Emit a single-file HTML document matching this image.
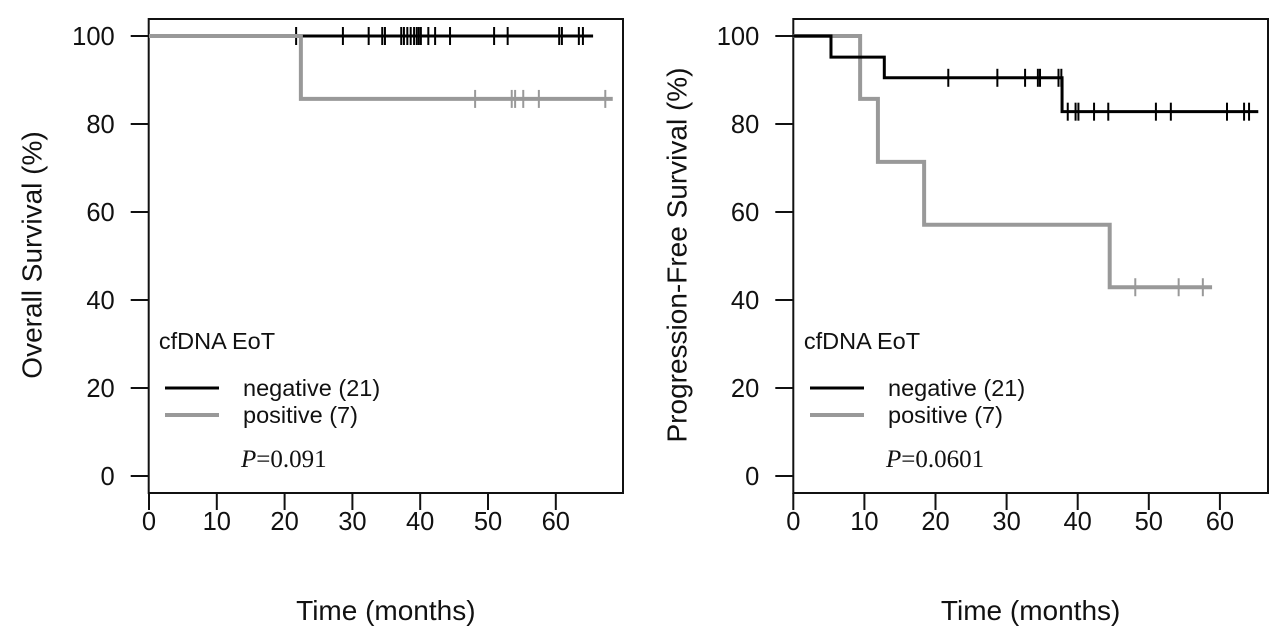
<!DOCTYPE html>
<html><head><meta charset="utf-8"><style>
html,body{margin:0;padding:0;background:#fff;}
svg{display:block;font-family:"Liberation Sans",sans-serif;}
</style></head><body>
<svg id="chart" width="1280" height="642" viewBox="0 0 1280 642"></svg>
<script>
// ---- data ----
const xTicks = [0,10,20,30,40,50,60];
const yTicks = [0,20,40,60,80,100];
// Overall survival
const osNegSteps = [[0,100]];
const osNegEnd = 65.5;
const osNegCensor = [21.7,28.6,32.4,34.4,34.8,37.2,37.6,38.1,38.6,39.1,39.5,39.8,40.1,41.2,42.2,44.4,50.9,52.9,60.5,60.9,63.4,64.0];
const osPosSteps = [[0,100],[22.4,85.7]];
const osPosEnd = 68.4;
const osPosCensor = [48.1,53.5,54.0,55.2,57.5,67.3];
// Progression-free survival
const pfsNegSteps = [[0,100],[5.3,95.2],[12.8,90.5],[37.8,82.8]];
const pfsNegEnd = 65.4;
const pfsNegCensor = [21.8,28.7,32.6,34.4,34.7,37.3,37.7,38.6,39.7,40.1,42.3,44.3,51.0,53.1,61.0,63.4,64.1];
const pfsPosSteps = [[0,100],[9.4,85.7],[11.9,71.4],[18.4,57.1],[44.5,42.9]];
const pfsPosEnd = 58.9;
const pfsPosCensor = [48.1,54.2,57.6];

const NS="http://www.w3.org/2000/svg";
const svg=document.getElementById('chart');
function mk(tag,attrs,parent){const e=document.createElementNS(NS,tag);for(const k in attrs)e.setAttribute(k,attrs[k]);(parent||svg).appendChild(e);return e;}

function panel(p){
  const g=mk('g',{});
  
  
  const X=v=>p.x0+v*p.kx, Y=v=>476-v*4.4;
  const box=mk('rect',{x:p.bl,y:19,width:p.br-p.bl,height:474,fill:'none',stroke:'#111','stroke-width':2},g);
  
  
  xTicks.forEach(t=>{
    const l=mk('line',{x1:X(t),x2:X(t),y1:493,y2:510,stroke:'#111','stroke-width':2},g);
    
    
    const tx=mk('text',{x:X(t),y:530,'font-size':25.5,'text-anchor':'middle',fill:'#111'},g);
    tx.textContent=t;
    
    
  });
  yTicks.forEach(t=>{
    const l=mk('line',{x1:p.bl-18,x2:p.bl,y1:Y(t),y2:Y(t),stroke:'#111','stroke-width':2},g);
    
    
    const tx=mk('text',{x:p.bl-34,y:Y(t)+9,'font-size':25.5,'text-anchor':'end',fill:'#111'},g);
    tx.textContent=t;
    
    
  });
  const xt=mk('text',{x:(p.bl+p.br)/2,y:620,'font-size':28,'text-anchor':'middle',fill:'#111'},g);
  xt.textContent='Time (months)';
  
  
  const yt=mk('text',{x:0,y:0,'font-size':28,'text-anchor':'middle',fill:'#111',transform:`translate(${p.bl-107},255) rotate(-90)`},g);
  yt.textContent=p.ytitle;
  
  
  // curves
  p.curves.forEach(c=>{
    let d='';
    c.steps.forEach((s,i)=>{
      if(i===0)d+=`M${X(s[0])},${Y(s[1])}`;
      else d+=`H${X(s[0])}V${Y(s[1])}`;
    });
    d+=`H${X(c.end)}`;
    const path=mk('path',{d:d,fill:'none',stroke:c.color,'stroke-width':c.w},g);
    
    
    c.censor.forEach(t=>{
      let v=c.steps[0][1];
      c.steps.forEach(s=>{if(s[0]<=t)v=s[1];});
      const m=mk('line',{x1:X(t),x2:X(t),y1:Y(v)-9,y2:Y(v)+9,stroke:c.color,'stroke-width':2},g);
      
      
    });
  });
  // legend
  const lg=mk('g',{},g);
  
  
  const lt=mk('text',{x:p.lx+52,y:349,'font-size':23.5,'text-anchor':'middle',fill:'#111'},lg);
  lt.textContent='cfDNA EoT';
  
  
  [['negative (21)','#000',3,388],['positive (7)','#999',4,415]].forEach(e=>{
    const l=mk('line',{x1:p.lx,x2:p.lx+54,y1:e[3],y2:e[3],stroke:e[1],'stroke-width':e[2]},lg);
    
    
    const t=mk('text',{x:p.lx+78,y:e[3]+8,'font-size':23.5,fill:'#111'},lg);
    t.textContent=e[0];
    
    
  });
  const pv=mk('text',{x:p.lx+76,y:467,'font-size':25,fill:'#111','font-family':'Liberation Serif, serif'},g);
  pv.innerHTML='<tspan font-style="italic">P</tspan>=' + p.pval;
  
  
}

panel({name:'overall-survival-panel',x0:149,kx:6.78,bl:148.7,br:623,ytitle:'Overall Survival (%)',lx:165,pval:'0.091',
  curves:[
    {name:'negative-curve',steps:osNegSteps,end:osNegEnd,censor:osNegCensor,color:'#000',w:3},
    {name:'positive-curve',steps:osPosSteps,end:osPosEnd,censor:osPosCensor,color:'#999',w:4}
  ]});
panel({name:'progression-free-survival-panel',x0:793.3,kx:7.11,bl:793.3,br:1268,ytitle:'Progression-Free Survival (%)',lx:810,pval:'0.0601',
  curves:[
    {name:'positive-curve',steps:pfsPosSteps,end:pfsPosEnd,censor:pfsPosCensor,color:'#999',w:4},
    {name:'negative-curve',steps:pfsNegSteps,end:pfsNegEnd,censor:pfsNegCensor,color:'#000',w:3}
  ]});
</script>
</body></html>
